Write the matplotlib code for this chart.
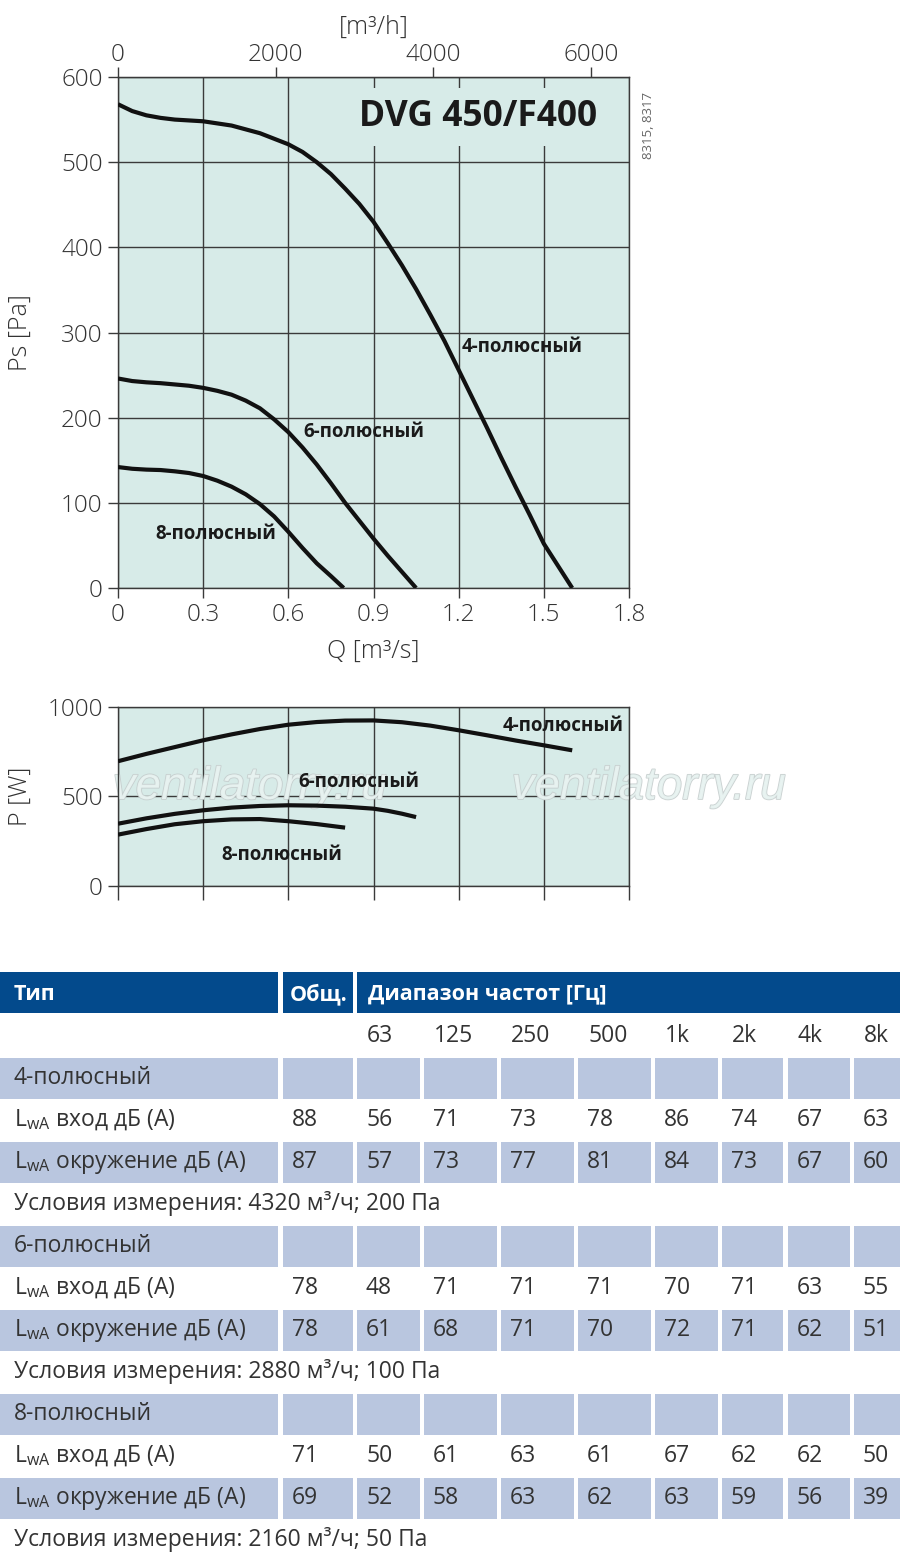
import matplotlib
matplotlib.use("Agg")
import matplotlib.pyplot as plt
import matplotlib.patheffects as pe
from matplotlib.patches import Rectangle

plt.rcParams['font.family'] = ['Open Sans', 'DejaVu Sans']

# --- fan curves, Q in m3/s ---
q_4p = [0, 0.05, 0.1, 0.15, 0.2, 0.3, 0.4, 0.5, 0.6, 0.65, 0.7, 0.75, 0.8, 0.85, 0.9,
        0.95, 1.0, 1.05, 1.1, 1.15, 1.2, 1.25, 1.3, 1.35, 1.4, 1.45, 1.5, 1.55, 1.6]
ps_4p = [568, 560, 555, 552, 550, 548, 543, 534, 521, 512, 500, 486, 469, 451, 430,
         405, 379, 351, 321, 290, 256, 222, 188, 153, 119, 86, 52, 26, 0]
q_6p = [0, 0.05, 0.1, 0.15, 0.2, 0.25, 0.3, 0.35, 0.4, 0.45, 0.5, 0.55, 0.6, 0.65, 0.7,
        0.75, 0.8, 0.85, 0.9, 0.95, 1.0, 1.05]
ps_6p = [246, 243, 241.5, 240.5, 239, 237.5, 235, 231.5, 227, 220, 211, 198, 183, 165, 145,
         123, 100, 79, 58, 38, 19, 0]
q_8p = [0, 0.05, 0.1, 0.15, 0.2, 0.25, 0.3, 0.35, 0.4, 0.45, 0.5, 0.55, 0.6, 0.65,
        0.7, 0.75, 0.795]
ps_8p = [142, 140, 139, 138.5, 137, 135, 131.5, 126, 119, 110, 98.5, 84, 66, 47, 29, 14, 0]

# power curves
qp_4p = [0, 0.1, 0.2, 0.3, 0.4, 0.5, 0.6, 0.7, 0.8, 0.9, 1.0, 1.1, 1.2, 1.3, 1.4, 1.5, 1.6]
p_4p = [697, 738, 776, 814, 847, 877, 901, 916, 924, 925, 915, 896, 870, 842, 813, 786, 758]
qp_6p = [0, 0.1, 0.2, 0.3, 0.4, 0.5, 0.6, 0.7, 0.8, 0.9, 0.95, 1.0, 1.05]
p_6p = [348, 378, 403, 423, 438, 447, 451, 449, 443, 432, 420, 404, 385]
qp_8p = [0, 0.1, 0.2, 0.3, 0.4, 0.5, 0.6, 0.7, 0.8]
p_8p = [287, 318, 345, 362, 372, 374, 362, 346, 326]

curve_names = ['4-полюсный', '6-полюсный', '8-полюсный']
q_ticks = [0, 0.3, 0.6, 0.9, 1.2, 1.5, 1.8]
q_ticklabels = ['0', '0.3', '0.6', '0.9', '1.2', '1.5', '1.8']
ps_ticks = [0, 100, 200, 300, 400, 500, 600]
p_ticks = [0, 500, 1000]
h_ticks = [0, 2000, 4000, 6000]

# --- sound table ---
freqs = ['63', '125', '250', '500', '1k', '2k', '4k', '8k']
inlet_4p = [88, 56, 71, 73, 78, 86, 74, 67, 63]
surr_4p = [87, 57, 73, 77, 81, 84, 73, 67, 60]
inlet_6p = [78, 48, 71, 71, 71, 70, 71, 63, 55]
surr_6p = [78, 61, 68, 71, 70, 72, 71, 62, 51]
inlet_8p = [71, 50, 61, 63, 61, 67, 62, 62, 50]
surr_8p = [69, 52, 58, 63, 62, 63, 59, 56, 39]
conditions = ['Условия измерения: 4320 м³/ч; 200 Па',
              'Условия измерения: 2880 м³/ч; 100 Па',
              'Условия измерения: 2160 м³/ч; 50 Па']

W, H = 900, 1566
fig = plt.figure(figsize=(9, 15.66), dpi=100)

def px_axes(l, t, r, b):
    return fig.add_axes([l / W, 1 - b / H, (r - l) / W, (b - t) / H])

bg = '#d7ebe8'
gc = '#3a3a3a'
tc = '#333333'
tick_kw = dict(direction='out', length=7, width=1, color=gc, labelsize=17.5,
               labelcolor=tc, pad=4)

# table layer (pixel coords)
tab = fig.add_axes([0, 0, 1, 1])
tab.set_xlim(0, W)
tab.set_ylim(H, 0)
tab.axis('off')

def style(a):
    a.set_facecolor(bg)
    a.set_axisbelow(True)
    a.grid(True, color=gc, lw=1)
    for s in a.spines.values():
        s.set_color(gc)
        s.set_linewidth(1)
    a.tick_params(**tick_kw)
    for t in a.get_xticklabels() + a.get_yticklabels():
        t.set_fontweight('light')

# ---------- pressure chart ----------
ax = px_axes(118, 77, 629, 588)
ax.set_xlim(0, 1.8)
ax.set_ylim(0, 600)
ax.set_xticks(q_ticks, q_ticklabels)
ax.set_yticks(ps_ticks)
style(ax)
for xs, ys in [(q_4p, ps_4p), (q_6p, ps_6p), (q_8p, ps_8p)]:
    ax.plot(xs, ys, color='#111111', lw=3, solid_capstyle='butt', zorder=3)
lab_kw = dict(fontsize=13.5, fontweight='bold', color='#1a1a1a', ha='center',
              va='center', zorder=5)
ax.text(1.423, 283, curve_names[0], **lab_kw)
ax.text(0.867, 183, curve_names[1], **lab_kw)
ax.text(0.345, 63, curve_names[2], **lab_kw)
ax.text(1.27, 553, 'DVG 450/F400', fontsize=25.5, fontweight='bold', color='#1a1a1a',
        ha='center', va='center', zorder=4,
        bbox=dict(facecolor=bg, edgecolor='none', pad=8))
ax.set_xlabel('Q [m³/s]', fontsize=18, color=tc, fontweight='light', labelpad=8)
ax.set_ylabel('Ps [Pa]', fontsize=18, color=tc, fontweight='light')
ax.yaxis.set_label_coords(-0.166, 0.5)

sec = ax.secondary_xaxis('top', functions=(lambda q: q * 3600, lambda h: h / 3600))
sec.set_xticks(h_ticks)
sec.tick_params(**dict(tick_kw, pad=0.5))
for t in sec.get_xticklabels():
    t.set_fontweight('light')
sec.spines['top'].set_color(gc)
sec.set_xlabel('[m³/h]', fontsize=18, color=tc, fontweight='light', labelpad=6)

fig.text(648 / W, 1 - 125 / H, '8315, 8317', rotation=90, fontsize=9.5,
         color='#666666', ha='center', va='center')

# ---------- power chart ----------
ax2 = px_axes(118, 707, 629, 886)
ax2.set_xlim(0, 1.8)
ax2.set_ylim(0, 1000)
ax2.set_xticks(q_ticks, [''] * len(q_ticks))
ax2.set_yticks(p_ticks)
style(ax2)
ax2.tick_params(axis='x', length=10)
for xs, ys in [(qp_4p, p_4p), (qp_6p, p_6p), (qp_8p, p_8p)]:
    ax2.plot(xs, ys, color='#111111', lw=3, solid_capstyle='butt', zorder=3)
ax2.text(1.568, 894, curve_names[0], **lab_kw)
ax2.text(0.849, 581, curve_names[1], **lab_kw)
ax2.text(0.578, 173, curve_names[2], **lab_kw)
ax2.set_ylabel('P [W]', fontsize=18, color=tc, fontweight='light')
ax2.yaxis.set_label_coords(-0.166, 0.5)

# watermark, behind the curve labels
for wx in (0.465, 1.870):
    ax2.text(wx, 553, 'ventilatorry.ru', fontsize=33, style='italic',
             family='Liberation Sans', color='#e8f3f1', alpha=0.9, ha='center',
             va='center', clip_on=False, zorder=2.5,
             path_effects=[pe.withStroke(linewidth=1.2, foreground='#c4cccc')])

# ---------- table ----------
col_l = [0, 283, 357, 424, 501, 578, 655, 722, 788, 854]
col_r = [278, 353, 420, 497, 574, 651, 718, 783, 850, 900]
head_c = '#034a8c'
shade_c = '#b9c6df'
fs = 16.5

# header row
for l, r in [(0, 278), (283, 353), (357, 900)]:
    tab.add_patch(Rectangle((l, 972), r - l, 41, facecolor=head_c, edgecolor='none'))
hkw = dict(color='white', fontsize=15.5, fontweight='bold', va='center')
tab.text(14, 994, 'Тип', **hkw)
tab.text(290, 994, 'Общ.', **hkw)
tab.text(368, 994, 'Диапазон частот [Гц]', **hkw)

def row_y(i):
    return 1036 + 42 * i

for j, f in enumerate(freqs):
    tab.text(col_l[j + 2] + 10, row_y(0), f, color=tc, fontsize=fs, va='center')

lwa_in = r'L$_{\mathregular{wA}}$ вход дБ (A)'
lwa_sur = r'L$_{\mathregular{wA}}$ окружение дБ (A)'
blocks = [(curve_names[0], inlet_4p, surr_4p, conditions[0]),
          (curve_names[1], inlet_6p, surr_6p, conditions[1]),
          (curve_names[2], inlet_8p, surr_8p, conditions[2])]

i = 1
for name, vin, vsur, cond in blocks:
    rows = [(name, None, True), (lwa_in, vin, False), (lwa_sur, vsur, True)]
    for label, vals, shaded in rows:
        y = row_y(i)
        if shaded:
            for l, r in zip(col_l, col_r):
                tab.add_patch(Rectangle((l, y - 20.5), r - l, 41, facecolor=shade_c,
                                        edgecolor='none'))
        tab.text(14, y, label, color=tc, fontsize=fs, va='center')
        if vals is not None:
            for l, v in zip(col_l[1:], vals):
                tab.text(l + 9, y, str(v), color=tc, fontsize=fs, va='center')
        i += 1
    tab.text(14, row_y(i), cond, color=tc, fontsize=fs, va='center')
    i += 1

fig.savefig('out.png', dpi=100)
